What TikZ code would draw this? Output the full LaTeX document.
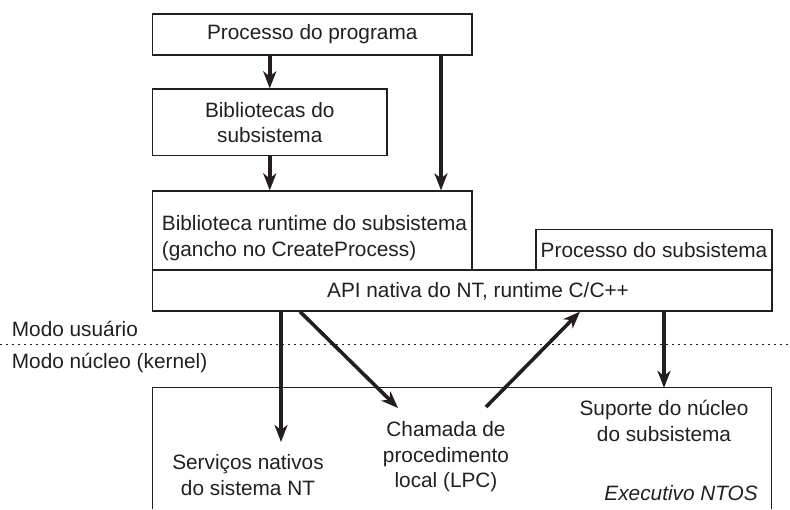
\documentclass[tikz,border=0pt]{standalone}
\usepackage{fontspec}
\setmainfont{Liberation Sans}
\usetikzlibrary{arrows.meta}
\definecolor{ink}{HTML}{231F20}
\begin{document}
\begin{tikzpicture}[x=1pt,y=-1pt,
  every node/.style={font=\fontsize{20.8}{25.5}\selectfont, text=ink},
  boxnode/.style={draw=ink, line width=1.2pt, inner sep=0pt, rectangle},
  txt/.style={inner sep=0pt, align=center},
  arr/.style={draw=ink, line width=3.6pt, -{Stealth[length=17pt,width=13pt,inset=5pt]}},
  modeline/.style={draw=ink, line width=1pt, dash pattern=on 2pt off 4pt}
]
\useasboundingbox (0,0) rectangle (790,509);

% boxes
\node[boxnode, minimum width=319.5pt, minimum height=41pt] (prog) at (312.25,34.5) {Processo do programa};
\node[boxnode, minimum width=234.5pt, minimum height=66.7pt, align=center] (bib) at (269.75,122.35) {Bibliotecas do\\subsistema};
\node[boxnode, minimum width=319.5pt, minimum height=79pt] (rt) at (312.25,230.5) {};
\node[txt, anchor=west, align=left] (rttxt) at (161.7,238) {Biblioteca runtime do subsistema\\(gancho no CreateProcess)};
\node[boxnode, minimum width=236pt, minimum height=40.7pt] (subproc) at (654,249.65) {Processo do subsistema};
\node[boxnode, minimum width=619.5pt, minimum height=41pt] (api) at (462.25,290.5) {};
\node[txt] (apitxt) at (478,291.5) {API nativa do NT, runtime C/C++};

% mode separator
\coordinate (ml) at (0,344.3);
\coordinate (mr) at (790,344.3);
\draw[modeline] (ml) -- (mr);
\node[txt, anchor=west] (user) at (11.7,329) {Modo usuário};
\node[txt, anchor=west] (kern) at (11.7,362.5) {Modo núcleo (kernel)};

% kernel box (open at the bottom)
\node[inner sep=0pt, minimum width=618.5pt, minimum height=121pt] (kbox) at (461.75,448.5) {};
\draw[draw=ink, line width=1.2pt] (kbox.south west) |- (kbox.north east) -- (kbox.south east);

% kernel texts
\node[txt] (serv) at (248,475) {Serviços nativos\\do sistema NT};
\node[txt] (lpc) at (446,457) {Chamada de\\procedimento\\local (LPC)};
\node[txt] (sup) at (664,421) {Suporte do núcleo\\do subsistema};
\node[txt, anchor=east, font=\fontsize{20.8}{25.5}\selectfont\itshape] (exec) at (758,493) {Executivo NTOS};

% helper coordinates
\coordinate (s1) at (281,442);
\coordinate (a2) at (300,0);
\coordinate (l1) at (398,408);
\coordinate (l2) at (486,407);
\coordinate (a3) at (580,0);
\coordinate (p1) at (441,0);

% connectors
\draw[arr] (prog.south -| bib.north) -- (bib.north);
\draw[arr] (bib.south) -- (bib.south |- rt.north);
\draw[arr] (prog.south -| p1) -- (rt.north -| p1);
\draw[arr] (api.south -| s1) -- (s1);
\draw[arr] (api.south -| a2) -- (l1);
\draw[arr] (l2) -- (api.south -| a3);
\draw[arr] (api.south -| sup) -- (kbox.north -| sup);
\end{tikzpicture}
\end{document}
